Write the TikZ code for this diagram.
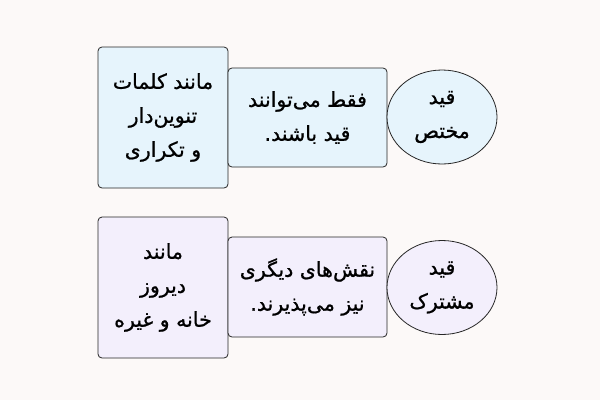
\documentclass[tikz,border=0pt]{standalone}
\usepackage{fontspec}
\usepackage{xcolor}
\usepackage{tikz}
\usetikzlibrary{shapes.geometric}
\newfontfamily\arabicfont[Script=Arabic, FakeBold=0.9]{DejaVu Sans}
\TeXXeTstate=1
\definecolor{paper}{HTML}{FCF9F8}
\definecolor{bluefill}{HTML}{E6F4FC}
\definecolor{lilacfill}{HTML}{F3EFFC}
\tikzset{
	fatext/.style={font=\arabicfont\fontsize{20.5}{34}\selectfont, align=center, text=black},
	box/.style={fatext, draw=black!85, line width=0.8pt, rounded corners=4pt, inner sep=0pt},
	oval/.style={fatext, ellipse, draw=black!85, line width=0.8pt, inner sep=0pt,
		minimum width=110pt, minimum height=94pt}
}
\begin{document}
\begin{tikzpicture}[x=1pt, y=-1pt]
				\useasboundingbox[fill=paper] (0, 0) rectangle (600, 400);
				% top row
				\node[box, fill=bluefill, minimum width=130pt, minimum height=141pt] (topex) at (163, 117.5) {\beginR مانند کلمات\endR\\\beginR تنوین‌دار\endR\\\beginR و تکراری\endR};
				\node[box, fill=bluefill, minimum width=159pt, minimum height=99pt] (toprule) at (307.5, 117.5) {\beginR فقط می‌توانند\endR\\\beginR قید باشند.\endR};
				\node[oval, fill=bluefill] (topname) at (442, 117) {\beginR قید\endR\\\beginR مختص\endR};
				% bottom row
				\node[box, fill=lilacfill, minimum width=130pt, minimum height=141pt] (botex) at (163, 287.5) {\beginR مانند\endR\\\beginR دیروز\endR\\\beginR خانه و غیره\endR};
				\node[box, fill=lilacfill, minimum width=159pt, minimum height=100pt] (botrule) at (307.5, 287) {\beginR نقش‌های دیگری\endR\\\beginR نیز می‌پذیرند.\endR};
				\node[oval, fill=lilacfill] (botname) at (442, 287.5) {\beginR قید\endR\\\beginR مشترک\endR};
\end{tikzpicture}
\end{document}
